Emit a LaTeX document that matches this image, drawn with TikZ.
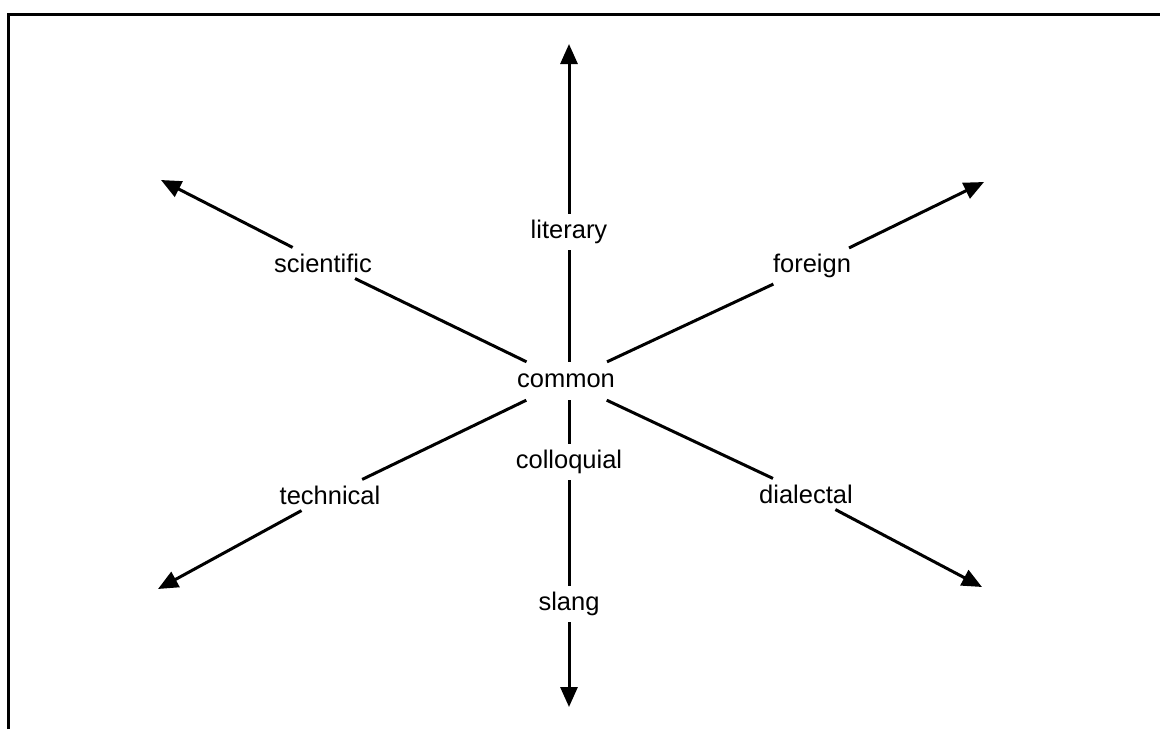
\documentclass[tikz,border=0pt]{standalone}
\usepackage{fontspec}
\setmainfont{Liberation Sans}
\usetikzlibrary{arrows.meta}
\begin{document}
\begin{tikzpicture}[x=1pt,y=-1pt,
  word/.style={font=\fontsize{25.5}{30}\selectfont, inner sep=6pt},
  hub/.style={font=\fontsize{25.5}{30}\selectfont, inner xsep=8pt, inner ysep=12pt},
  ray/.style={line width=3pt},
  tip/.style={ray, -{Triangle[length=20pt,width=17pt]}}]
\useasboundingbox (0,0) rectangle (1160,729);
% open frame: top and left edges only
\coordinate (fl) at (8,729);
\coordinate (ftl) at (8,14);
\coordinate (ftr) at (1160,14);
\draw[line width=3pt] (fl) -- (ftl) -- (ftr);

% centre and labels
\node[hub] (common) at (566,381) {common};
\node[word] (literary) at (569,232) {literary};
\node[word] (colloquial) at (569,462) {colloquial};
\node[word] (slang) at (569,604) {slang};
\node[word] (scientific) at (323,263) {scientific};
\node[word] (foreign) at (812,266) {foreign};
\node[word] (technical) at (330,495) {technical};
\node[word] (dialectal) at (806,494) {dialectal};

% arrow ends
\coordinate (up) at (569,44);
\coordinate (down) at (569,707);
\coordinate (nw) at (161,180);
\coordinate (ne) at (984,182);
\coordinate (sw) at (158,589);
\coordinate (se) at (982,587);

% vertical axis
\draw[ray] (literary |- common.north) -- (literary.south);
\draw[tip] (literary.north) -- (up);
\draw[ray] (colloquial |- common.south) -- (colloquial.north);
\draw[ray] (colloquial.south) -- (slang.north);
\draw[tip] (slang.south) -- (down);

% diagonals
\draw[ray] (common) -- (scientific);
\draw[tip] (scientific) -- (nw);
\draw[ray] (common) -- (foreign);
\draw[tip] (foreign) -- (ne);
\draw[ray] (common) -- (technical);
\draw[tip] (technical) -- (sw);
\draw[ray] (common) -- (dialectal);
\draw[tip] (dialectal) -- (se);
\end{tikzpicture}
\end{document}
